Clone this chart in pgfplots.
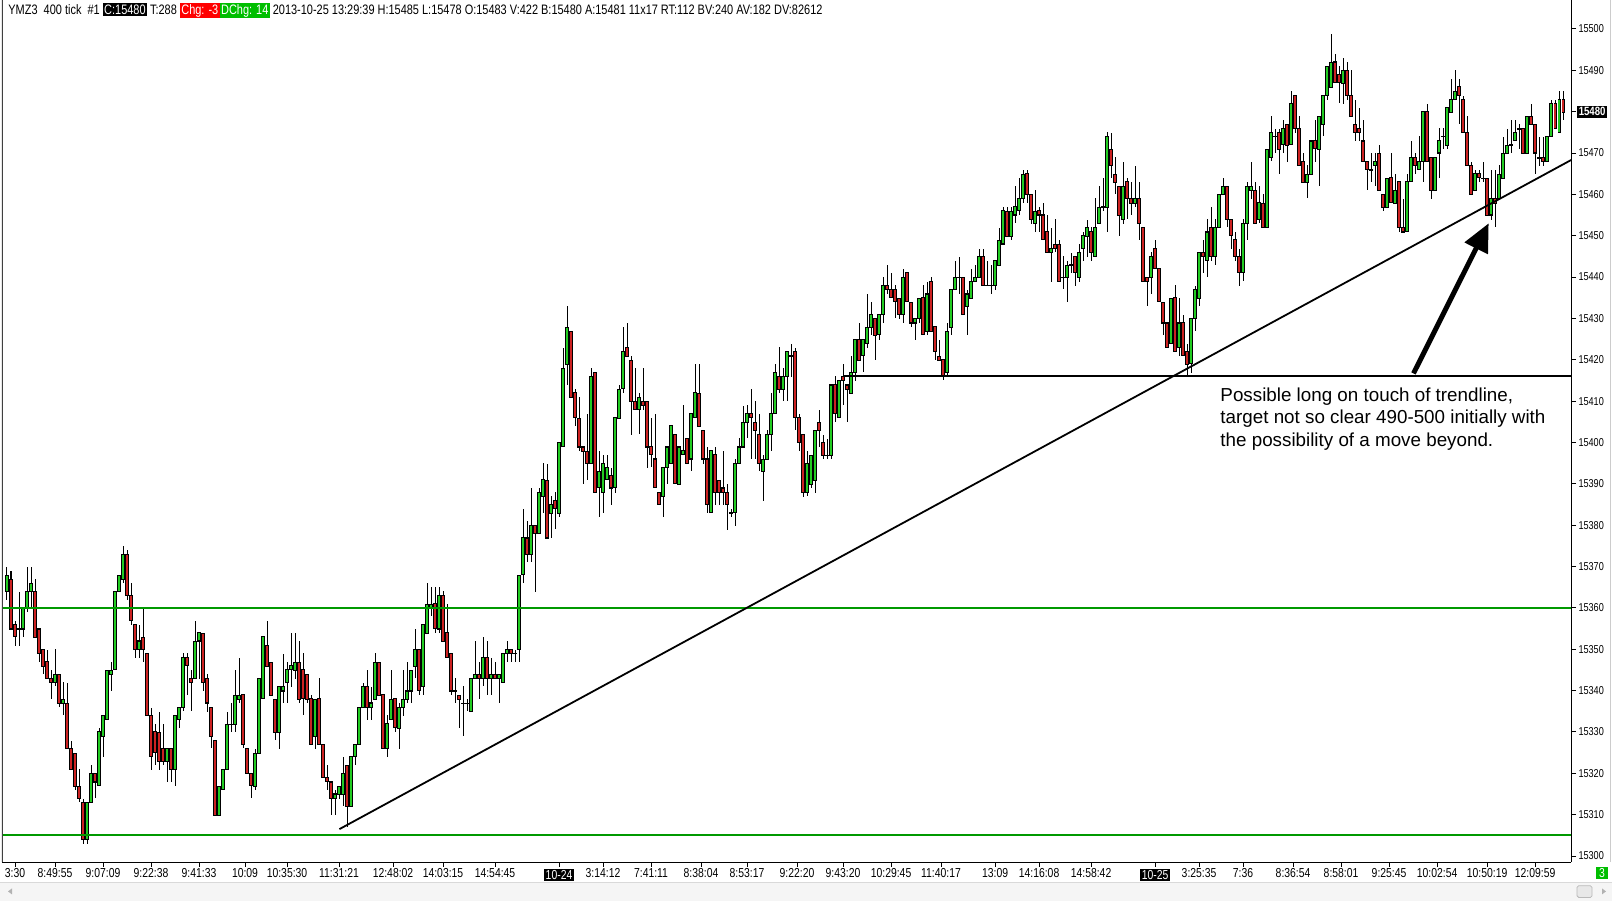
\documentclass[border=0pt]{standalone}
\usepackage{pgfplots}
\pgfplotsset{compat=1.18}
\usepackage{pgfplotstable}
\usepackage{fontspec}
\setmainfont{Liberation Sans}
\newfontfamily\narrow[FakeStretch=0.8]{Liberation Sans}
\usetikzlibrary{arrows.meta}

\definecolor{upgreen}{RGB}{34,204,34}
\definecolor{downred}{RGB}{204,34,34}
\definecolor{levelgreen}{RGB}{0,153,0}
\definecolor{chggreen}{RGB}{0,190,0}
\definecolor{chgred}{RGB}{255,0,0}
\newcommand{\tagbox}[2]{{\setlength{\fboxsep}{0.7pt}\colorbox{#1}{\textcolor{white}{#2}}}}

% YMZ3 400 tick bars: index, open, high, low, close
\pgfplotstableread{
i o h l c
0 15364 15370 15362 15368
1 15367 15369 15355 15355
2 15356 15357 15351 15353
3 15355 15364 15351 15355
4 15355 15360 15353 15360
5 15360 15370 15359 15364
6 15364 15370 15360 15366
7 15364 15367 15353 15353
8 15355 15355 15347 15349
9 15350 15350 15344 15346
10 15347 15350 15343 15343
11 15343 15345 15338 15342
12 15342 15350 15341 15344
13 15344 15344 15336 15337
14 15337 15342 15334 15338
15 15337 15342 15326 15326
16 15326 15328 15321 15321
17 15325 15325 15316 15317
18 15317 15321 15313 15314
19 15313 15314 15303 15304
20 15304 15313 15303 15313
21 15313 15322 15313 15320
22 15320 15320 15314 15318
23 15317 15331 15317 15330
24 15329 15334 15324 15334
25 15333 15345 15333 15345
26 15344 15347 15340 15345
27 15345 15364 15345 15364
28 15364 15368 15364 15368
29 15367 15375 15366 15373
30 15373 15374 15362 15363
31 15363 15366 15356 15357
32 15356 15356 15348 15350
33 15350 15356 15348 15352
34 15353 15360 15347 15350
35 15349 15349 15334 15334
36 15334 15336 15321 15324
37 15330 15332 15322 15325
38 15330 15335 15321 15323
39 15326 15332 15322 15323
40 15323 15326 15318 15326
41 15326 15326 15318 15321
42 15321 15334 15317 15334
43 15333 15336 15331 15336
44 15336 15349 15335 15348
45 15348 15349 15339 15346
46 15343 15345 15335 15342
47 15343 15357 15343 15352
48 15352 15354 15343 15354
49 15354 15354 15340 15342
50 15343 15344 15335 15337
51 15336 15336 15326 15329
52 15328 15328 15310 15310
53 15310 15317 15310 15317
54 15316 15321 15316 15321
55 15321 15335 15321 15332
56 15332 15337 15330 15332
57 15332 15345 15330 15339
58 15338 15348 15337 15339
59 15339 15339 15326 15327
60 15326 15326 15320 15320
61 15320 15320 15314 15317
62 15317 15326 15316 15325
63 15325 15343 15325 15343
64 15338 15353 15338 15353
65 15351 15357 15346 15346
66 15347 15347 15339 15339
67 15338 15338 15328 15330
68 15330 15341 15326 15341
69 15340 15349 15337 15341
70 15342 15347 15337 15345
71 15345 15354 15341 15346
72 15345 15354 15343 15347
73 15347 15352 15337 15338
74 15345 15349 15334 15338
75 15344 15344 15337 15338
76 15338 15339 15327 15327
77 15329 15338 15326 15338
78 15338 15343 15327 15327
79 15327 15327 15319 15319
80 15319 15322 15316 15318
81 15318 15318 15310 15314
82 15314 15316 15310 15315
83 15315 15317 15314 15317
84 15315 15324 15312 15320
85 15322 15322 15307 15312
86 15312 15324 15312 15324
87 15324 15327 15322 15327
88 15327 15336 15327 15336
89 15336 15342 15336 15341
90 15341 15345 15333 15336
91 15336 15341 15333 15337
92 15338 15349 15338 15347
93 15347 15347 15339 15339
94 15339 15339 15326 15326
95 15326 15334 15324 15332
96 15333 15345 15333 15338
97 15338 15338 15330 15331
98 15331 15337 15326 15336
99 15336 15345 15334 15338
100 15338 15347 15337 15340
101 15340 15345 15337 15345
102 15346 15355 15343 15350
103 15350 15350 15339 15340
104 15341 15356 15339 15356
105 15354 15366 15354 15361
106 15360 15365 15358 15361
107 15361 15365 15354 15355
108 15355 15365 15354 15363
109 15363 15364 15352 15352
110 15354 15361 15348 15348
111 15349 15349 15339 15340
112 15340 15343 15337 15340
113 15339 15339 15331 15338
114 15337 15341 15329 15337
115 15337 15338 15335 15337
116 15335 15343 15335 15343
117 15343 15352 15343 15344
118 15344 15347 15338 15343
119 15343 15353 15341 15348
120 15348 15352 15339 15343
121 15343 15348 15339 15344
122 15344 15347 15343 15343
123 15343 15344 15337 15344
124 15342 15349 15342 15349
125 15349 15352 15347 15350
126 15350 15350 15347 15349
127 15349 15350 15347 15349
128 15350 15368 15347 15368
129 15368 15384 15366 15377
130 15377 15381 15371 15373
131 15373 15389 15371 15380
132 15380 15380 15364 15378
133 15378 15389 15378 15388
134 15387 15395 15383 15391
135 15391 15395 15377 15377
136 15383 15387 15377 15385
137 15386 15388 15379 15384
138 15383 15400 15382 15400
139 15399 15423 15399 15418
140 15419 15433 15414 15428
141 15427 15427 15411 15411
142 15412 15413 15404 15406
143 15406 15411 15398 15399
144 15399 15399 15390 15398
145 15398 15407 15391 15395
146 15395 15418 15395 15416
147 15417 15417 15388 15388
148 15389 15398 15382 15393
149 15388 15397 15383 15395
150 15391 15397 15391 15394
151 15392 15394 15385 15389
152 15389 15406 15388 15406
153 15406 15414 15406 15413
154 15413 15428 15412 15422
155 15423 15429 15421 15421
156 15420 15421 15402 15410
157 15410 15418 15408 15408
158 15408 15412 15402 15411
159 15410 15418 15408 15409
160 15410 15410 15394 15399
161 15399 15406 15394 15397
162 15396 15407 15389 15389
163 15388 15388 15385 15385
164 15387 15394 15382 15394
165 15394 15399 15390 15399
166 15395 15404 15395 15404
167 15402 15402 15390 15390
168 15390 15399 15390 15399
169 15397 15409 15397 15398
170 15401 15401 15395 15395
171 15396 15407 15393 15407
172 15406 15419 15406 15412
173 15412 15419 15404 15404
174 15403 15403 15395 15396
175 15396 15399 15383 15385
176 15383 15398 15383 15398
177 15397 15399 15385 15388
178 15391 15391 15385 15388
179 15389 15398 15385 15388
180 15388 15390 15379 15385
181 15383 15384 15382 15383
182 15383 15396 15380 15395
183 15395 15401 15395 15399
184 15399 15409 15399 15405
185 15405 15409 15401 15407
186 15407 15413 15396 15406
187 15405 15410 15396 15403
188 15402 15407 15393 15395
189 15393 15397 15386 15396
190 15396 15403 15396 15402
191 15402 15412 15398 15407
192 15407 15419 15407 15417
193 15416 15423 15412 15413
194 15413 15418 15410 15416
195 15416 15422 15410 15422
196 15421 15424 15416 15421
197 15422 15423 15403 15406
198 15406 15407 15398 15400
199 15402 15402 15387 15388
200 15388 15398 15387 15395
201 15390 15397 15389 15397
202 15391 15403 15388 15403
203 15405 15408 15399 15403
204 15400 15402 15396 15397
205 15397 15401 15396 15397
206 15397 15414 15396 15414
207 15414 15416 15405 15407
208 15406 15415 15406 15415
209 15416 15419 15409 15415
210 15414 15414 15405 15413
211 15412 15421 15412 15417
212 15417 15425 15415 15425
213 15425 15429 15420 15420
214 15421 15425 15417 15425
215 15424 15436 15423 15428
216 15428 15434 15426 15431
217 15430 15430 15420 15426
218 15426 15431 15425 15431
219 15431 15440 15429 15438
220 15438 15443 15436 15437
221 15437 15441 15435 15435
222 15437 15438 15430 15434
223 15435 15435 15430 15431
224 15431 15442 15429 15440
225 15441 15441 15434 15434
226 15434 15434 15428 15429
227 15429 15430 15425 15430
228 15430 15435 15429 15435
229 15435 15438 15426 15426
230 15427 15439 15426 15436
231 15439 15440 15427 15427
232 15428 15428 15420 15422
233 15421 15425 15420 15420
234 15420 15420 15415 15416
235 15417 15429 15416 15427
236 15428 15437 15426 15437
237 15437 15444 15437 15440
238 15440 15445 15436 15440
239 15440 15440 15431 15431
240 15433 15437 15426 15436
241 15435 15442 15435 15439
242 15439 15443 15439 15440
243 15440 15447 15440 15445
244 15445 15447 15438 15438
245 15438 15444 15438 15438
246 15438 15443 15436 15438
247 15438 15444 15437 15444
248 15443 15452 15443 15449
249 15448 15457 15448 15456
250 15456 15457 15450 15450
251 15450 15457 15449 15456
252 15455 15462 15453 15457
253 15456 15464 15455 15459
254 15459 15466 15458 15465
255 15465 15466 15458 15460
256 15460 15460 15453 15454
257 15453 15461 15451 15456
258 15456 15457 15451 15455
259 15455 15458 15449 15449
260 15451 15455 15446 15446
261 15446 15452 15439 15447
262 15448 15454 15446 15447
263 15448 15449 15439 15439
264 15440 15445 15437 15440
265 15440 15444 15434 15443
266 15443 15446 15441 15443
267 15445 15445 15438 15441
268 15440 15448 15439 15446
269 15447 15451 15444 15450
270 15450 15454 15445 15452
271 15451 15452 15444 15446
272 15445 15459 15445 15452
273 15453 15462 15453 15457
274 15457 15464 15456 15457
275 15457 15475 15451 15474
276 15471 15475 15464 15467
277 15465 15469 15460 15463
278 15462 15462 15450 15455
279 15454 15468 15453 15462
280 15463 15464 15454 15459
281 15459 15463 15455 15458
282 15458 15467 15457 15459
283 15459 15463 15449 15453
284 15452 15452 15439 15439
285 15440 15440 15433 15439
286 15440 15446 15436 15445
287 15447 15449 15442 15442
288 15442 15442 15434 15434
289 15434 15434 15426 15429
290 15429 15429 15423 15423
291 15424 15435 15424 15435
292 15435 15438 15422 15422
293 15423 15435 15421 15429
294 15429 15431 15421 15421
295 15422 15424 15416 15419
296 15419 15430 15417 15430
297 15430 15438 15427 15437
298 15435 15446 15433 15446
299 15446 15449 15441 15445
300 15444 15454 15440 15451
301 15452 15457 15444 15445
302 15445 15454 15443 15452
303 15452 15460 15452 15460
304 15460 15464 15460 15462
305 15462 15462 15452 15454
306 15454 15454 15447 15450
307 15449 15451 15444 15445
308 15445 15447 15438 15441
309 15441 15454 15439 15453
310 15453 15463 15449 15462
311 15461 15468 15459 15462
312 15461 15463 15453 15453
313 15454 15462 15453 15458
314 15458 15460 15452 15452
315 15452 15471 15452 15471
316 15469 15479 15468 15475
317 15474 15476 15470 15474
318 15475 15476 15465 15471
319 15472 15478 15470 15476
320 15477 15477 15468 15472
321 15472 15485 15472 15482
322 15484 15484 15475 15476
323 15476 15479 15467 15467
324 15468 15470 15463 15463
325 15463 15467 15459 15465
326 15465 15473 15465 15473
327 15473 15478 15468 15471
328 15471 15479 15462 15479
329 15477 15484 15474 15484
330 15484 15491 15483 15491
331 15486 15499 15486 15492
332 15492 15494 15487 15487
333 15489 15491 15482 15487
334 15487 15493 15482 15490
335 15490 15492 15483 15484
336 15484 15490 15479 15479
337 15477 15483 15473 15475
338 15476 15481 15473 15475
339 15473 15478 15468 15468
340 15468 15468 15461 15466
341 15466 15470 15463 15466
342 15467 15470 15462 15468
343 15470 15472 15461 15461
344 15460 15460 15456 15457
345 15457 15464 15457 15464
346 15464 15470 15458 15458
347 15458 15465 15458 15461
348 15463 15463 15451 15452
349 15452 15459 15451 15451
350 15451 15465 15451 15463
351 15463 15473 15463 15469
352 15469 15470 15465 15467
353 15466 15474 15466 15468
354 15468 15480 15463 15480
355 15480 15482 15468 15468
356 15469 15469 15459 15461
357 15461 15469 15461 15469
358 15470 15476 15464 15473
359 15474 15476 15471 15474
360 15472 15481 15471 15481
361 15480 15488 15480 15483
362 15483 15490 15483 15485
363 15486 15488 15477 15484
364 15483 15484 15475 15475
365 15475 15479 15467 15467
366 15467 15468 15460 15460
367 15461 15466 15461 15465
368 15465 15466 15463 15464
369 15464 15468 15463 15464
370 15464 15464 15455 15455
371 15455 15466 15454 15459
372 15459 15466 15452 15458
373 15459 15467 15459 15465
374 15464 15474 15464 15470
375 15470 15476 15470 15472
376 15472 15478 15470 15472
377 15473 15478 15473 15475
378 15476 15477 15471 15476
379 15476 15476 15470 15470
380 15470 15479 15470 15479
381 15479 15482 15477 15477
382 15477 15477 15465 15470
383 15469 15474 15467 15469
384 15469 15474 15467 15468
385 15468 15474 15468 15474
386 15474 15483 15474 15482
387 15482 15483 15476 15476
388 15475 15485 15475 15483
389 15483 15485 15478 15480
}\ymz

\begin{document}
\begin{tikzpicture}
\path[use as bounding box] (0,0) rectangle (806pt,450.5pt);
% scroll bar strip at the bottom
\fill[gray!8] (0,0) rectangle (806pt,9.5pt);
\draw[gray!30, line width=0.5pt] (0,9.5pt) -- (806pt,9.5pt);
\fill[gray!60] (4pt,4.8pt) -- (6pt,6.3pt) -- (6pt,3.3pt) -- cycle;
\draw[gray!55, fill=gray!18, rounded corners=0.8pt] (788.5pt,1.8pt) rectangle (796pt,7.6pt);
\fill[gray!60] (803pt,4.8pt) -- (801pt,6.3pt) -- (801pt,3.3pt) -- cycle;

\begin{axis}[
    at={(1pt,19.5pt)}, anchor=south west,
    scale only axis, width=784.5pt, height=431pt,
    xmin=-1.25, xmax=391, ymin=15298.55, ymax=15507,
    scaled x ticks=false, scaled y ticks=false,
    axis x line*=bottom, axis y line*=right,
    axis line style={black, line width=0.5pt},
    tick align=outside, major tick length=2.5pt,
    tick style={black, line width=0.5pt},
    ytick={15300,15310,...,15500},
    yticklabels={15300,15310,15320,15330,15340,15350,15360,15370,15380,15390,15400,
                 15410,15420,15430,15440,15450,15460,15470,15480,15490,15500},
    yticklabel style={font=\narrow\fontsize{5.7}{6}\selectfont, inner sep=1pt},
    xtick={2,12,24,36,48,59.5,70,83,96.5,109,122,138,149,161,173.5,185,197.5,209,221,
           233.5,247,258,271,287,298,309,321.5,333.5,345.5,357.5,370,382},
    xticklabels={3:30,8:49:55,9:07:09,9:22:38,9:41:33,10:09,10:35:30,11:31:21,12:48:02,
           14:03:15,14:54:45,\tagbox{black}{10-24},3:14:12,7:41:11,8:38:04,8:53:17,9:22:20,
           9:43:20,10:29:45,11:40:17,13:09,14:16:08,14:58:42,\tagbox{black}{10-25},3:25:35,
           7:36,8:36:54,8:58:01,9:25:45,10:02:54,10:50:19,12:09:59},
    xticklabel style={font=\narrow\fontsize{6.5}{7}\selectfont, inner sep=0.6pt},
    candle/.style={draw=none, mark=none, mark size=0pt,
        error bars/.cd, y dir=both, y explicit, error mark=none},
]
% wicks
\addplot[candle, error bar style={draw=black, line width=0.5pt}]
  table[x=i, y expr={(\thisrow{h}+\thisrow{l})/2}, y error expr={(\thisrow{h}-\thisrow{l})/2}] {\ymz};
% body outlines
\addplot[candle, error bar style={draw=black, line width=1.6pt}]
  table[x=i, y expr={(\thisrow{o}+\thisrow{c})/2}, y error expr={abs(\thisrow{c}-\thisrow{o})/2+0.13}] {\ymz};
% rising bodies
\addplot[candle, error bar style={draw=upgreen, line width=0.8pt}]
  table[x=i, y expr={\thisrow{c}>\thisrow{o} ? (\thisrow{o}+\thisrow{c})/2 : nan},
        y error expr={abs(\thisrow{c}-\thisrow{o})/2-0.13}] {\ymz};
% falling bodies
\addplot[candle, error bar style={draw=downred, line width=0.8pt}]
  table[x=i, y expr={\thisrow{c}<\thisrow{o} ? (\thisrow{o}+\thisrow{c})/2 : nan},
        y error expr={abs(\thisrow{c}-\thisrow{o})/2-0.13}] {\ymz};

% support / resistance levels and trendline
\addplot[levelgreen, line width=1pt] coordinates {(-1.25,15360) (391,15360)};
\addplot[levelgreen, line width=1pt] coordinates {(-1.25,15305) (391,15305)};
\addplot[black, line width=1pt] coordinates {(209,15416) (391,15416)};
\addplot[black, line width=0.9pt] coordinates {(83.1,15306.5) (391,15468.3)};

\draw[black, line width=2.5pt, -{Triangle[length=14pt, width=12.5pt]}]
  (axis cs:351.6,15416.7) -- (axis cs:370.4,15453);
\node[anchor=north west, inner sep=0, align=left, font=\fontsize{9.4}{11.3}\selectfont]
  at (axis cs:303.25,15413.4)
  {Possible long on touch of trendline,\\target not so clear 490-500 initially with\\the possibility of a move beyond.};

\draw[black!75, line width=1pt] (rel axis cs:0,0) -- (rel axis cs:0,1);
\end{axis}

% header line
\node[anchor=base west, inner sep=0, font=\narrow\fontsize{6.85}{8}\selectfont] at (4pt,443.4pt)
  {YMZ3\ \ 400 tick\ \ \#1 \tagbox{black}{C:15480} T:288 \tagbox{chgred}{Chg: -3}\tagbox{chggreen}{DChg: 14} 2013-10-25 13:29:39 H:15485 L:15478 O:15483 V:422 B:15480 A:15481 11x17 RT:112 BV:240 AV:182 DV:82612};
% last price marker and bottom-right tag
\node[anchor=west, fill=black, text=white, inner sep=0.9pt, font=\narrow\bfseries\fontsize{6}{7}\selectfont]
  at (788.3pt,394.65pt) {15480};
\node[fill=chggreen, text=white, inner sep=0.9pt, minimum width=6pt, font=\narrow\fontsize{6.5}{7}\selectfont]
  at (801pt,14pt) {3};
\draw[gray!40, line width=0.5pt] (805.3pt,19.5pt) -- (805.3pt,450.5pt);
\end{tikzpicture}
\end{document}
